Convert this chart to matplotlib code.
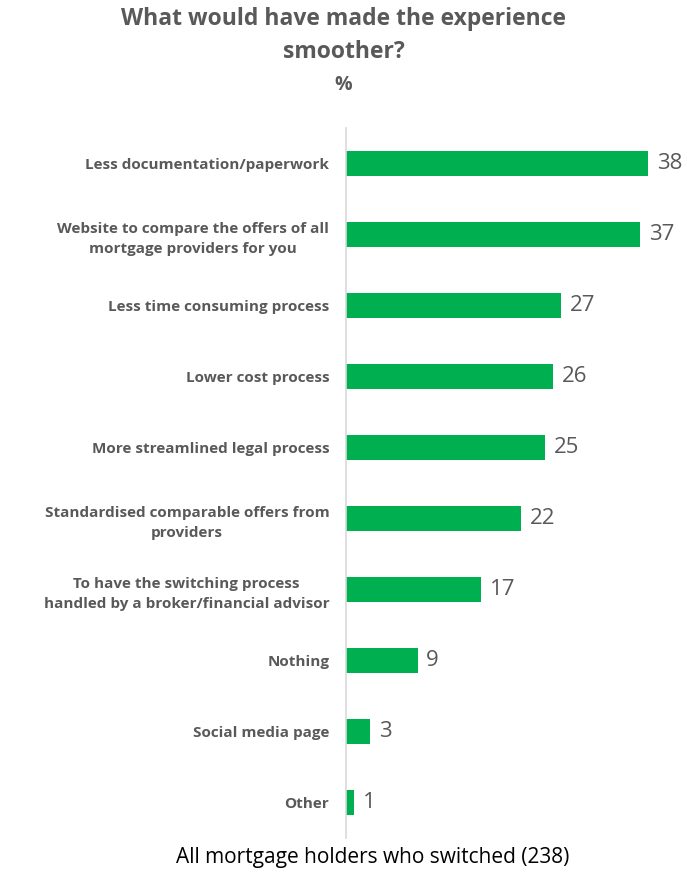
import matplotlib
matplotlib.use("Agg")
import matplotlib.pyplot as plt

categories = [
    "Less documentation/paperwork",
    "Website to compare the offers of all\nmortgage providers for you",
    "Less time consuming process",
    "Lower cost process",
    "More streamlined legal process",
    "Standardised comparable offers from\nproviders",
    "To have the switching process\nhandled by a broker/financial advisor",
    "Nothing",
    "Social media page",
    "Other",
]
values = [38, 37, 27, 26, 25, 22, 17, 9, 3, 1]

GREEN = "#00B050"
GREY = "#595959"

plt.rcParams["font.family"] = ["Open Sans", "DejaVu Sans"]

fig = plt.figure(figsize=(6.87, 8.72), dpi=100)
ax = fig.add_axes([0.5036, 0.039, 0.4629, 0.8142])

pos = list(range(len(categories)))
ax.barh(pos, values, height=0.34, color=GREEN)
ax.set_ylim(len(categories) - 0.5, -0.5)
ax.set_xlim(0, 40)

for p, v in zip(pos, values):
    ax.text(v + 1.1, p, str(v), va="center", ha="left", fontsize=16, color=GREY)

ax.set_yticks(pos)
ax.set_yticklabels(categories, fontsize=11, fontweight="bold", color=GREY,
                   ha="right", multialignment="center", linespacing=1.55)
ax.tick_params(axis="y", length=0, pad=12)
ax.set_xticks([])

for side in ["top", "right", "bottom"]:
    ax.spines[side].set_visible(False)
ax.spines["left"].set_color("#d9d9d9")
ax.spines["left"].set_linewidth(1.2)

fig.text(0.5, 0.992, "What would have made the experience\nsmoother?",
         ha="center", va="top", fontsize=16.5, fontweight="bold", color=GREY,
         linespacing=1.5)
fig.text(0.5, 0.903, "%", ha="center", va="center", fontsize=14,
         fontweight="bold", color=GREY)
fig.text(0.542, 0.017, "All mortgage holders who switched (238)",
         ha="center", va="center", fontsize=15, color="black")

fig.savefig("out.png", dpi=100)
